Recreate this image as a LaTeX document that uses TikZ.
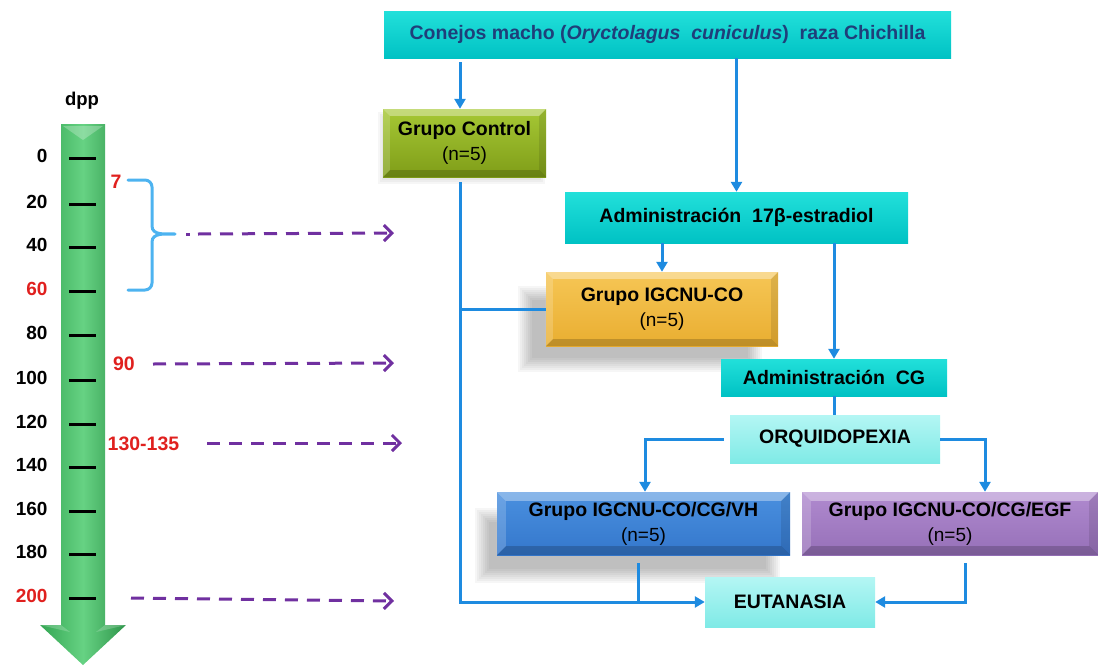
\documentclass[tikz,border=0pt]{standalone}
\usepackage{fontspec}
\setmainfont{Liberation Sans}
\usetikzlibrary{arrows.meta,calc,backgrounds}
\definecolor{cblue}{HTML}{1E8BE0}
\definecolor{dpurple}{HTML}{7030A0}
\definecolor{bracec}{HTML}{4DB3F0}
\definecolor{redl}{HTML}{E0201E}
\definecolor{navy}{HTML}{1F3F7A}
\definecolor{cyanT}{HTML}{22E0DA}
\definecolor{cyanB}{HTML}{00C2C4}
\definecolor{lcyanT}{HTML}{B4F6F4}
\definecolor{lcyanB}{HTML}{7FEAE6}
\definecolor{oliveT}{HTML}{A6C835}
\definecolor{oliveB}{HTML}{7F9D18}
\definecolor{goldT}{HTML}{F6C655}
\definecolor{goldB}{HTML}{E9AE31}
\definecolor{blueT}{HTML}{4A90DF}
\definecolor{blueB}{HTML}{3477CC}
\definecolor{purT}{HTML}{B08ACF}
\definecolor{purB}{HTML}{9670B8}
\definecolor{grL}{HTML}{34A653}
\definecolor{grM}{HTML}{66D283}
\newcommand\nfont{\fontsize{19}{22}\selectfont\mdseries}
\newcommand\bev[2][6pt]{%
  \fill[white,opacity=.35] (#2.north west) -- (#2.north east) -- ([shift={(-#1,-#1)}]#2.north east) -- ([shift={(#1,-#1)}]#2.north west) -- cycle;
  \fill[white,opacity=.18] (#2.north west) -- ([shift={(#1,-#1)}]#2.north west) -- ([shift={(#1,#1)}]#2.south west) -- (#2.south west) -- cycle;
  \fill[black,opacity=.18] (#2.south west) -- (#2.south east) -- ([shift={(-#1,#1)}]#2.south east) -- ([shift={(#1,#1)}]#2.south west) -- cycle;
  \fill[black,opacity=.10] (#2.north east) -- ([shift={(-#1,-#1)}]#2.north east) -- ([shift={(-#1,#1)}]#2.south east) -- (#2.south east) -- cycle;}
% soft shadow: node, xshift, yshift (canvas pt), max spread
\newcommand\softshadow[4]{%
  \begin{scope}[on background layer]
  \foreach \e in {-8,-6,...,#4}{
    \fill[black,opacity=.035] ([shift={(#2-\e pt,#3-\e pt)}]#1.south west) rectangle ([shift={(#2+\e pt,#3+\e pt)}]#1.north east);
  }
  \end{scope}}
\begin{document}
\begin{tikzpicture}[x=1pt,y=-1pt,
  box/.style={inner sep=0pt, align=center, font=\fontsize{19.5}{23}\selectfont\bfseries, text=black},
  cyanbox/.style={box, top color=cyanT, bottom color=cyanB},
  lcyanbox/.style={box, top color=lcyanT, bottom color=lcyanB},
  conn/.style={draw=cblue, line width=3pt, -{Triangle[length=10pt,width=11pt]}},
  link/.style={draw=cblue, line width=3pt},
  dasharr/.style={draw=dpurple, line width=3pt, dash pattern=on 13pt off 9pt, -{Straight Barb[length=8pt,width=16pt,line width=3pt]}},
  tickln/.style={line width=3pt, black},
  lab/.style={anchor=east, font=\fontsize{19}{21}\selectfont\bfseries},
  rlab/.style={font=\fontsize{19.5}{21}\selectfont\bfseries, text=redl}]
\useasboundingbox (0,0) rectangle (1098,667);
% ---------- timeline arrow ----------
\shade[left color=grL, right color=grL!90!black, middle color=grM]
  (61,124) -- (105,124) -- (105,625) -- (126,625) -- (83,665) -- (40,625) -- (61,625) -- cycle;
\fill[white,opacity=.25] (63,126) -- (103,126) -- (83,140) -- cycle;
\fill[white,opacity=.2] (40,625) -- (61,625) -- (70,632) -- cycle;
\fill[white,opacity=.2] (126,625) -- (105,625) -- (96,632) -- cycle;
\node[font=\fontsize{18.5}{20}\selectfont\bfseries] (dpp) at (82,101) {dpp};
\foreach \v/\y/\c in {0/158/black,20/204/black,40/247/black,60/291/redl,80/335/black,100/380/black,120/424/black,140/467/black,160/511/black,180/554/black,200/598/redl}{
  \draw[tickln] (69,\y) -- (96,\y);
  \node[lab, text=\c] (t\v) at (51,\y-2) {\v};
}
\node[rlab] (r7) at (116,182) {7};
\node[rlab] (r90) at (124,364) {90};
\node[rlab] (r130) at (143.5,444) {130-135};
% brace
\draw[bracec, line width=3pt, line cap=round]
  (128,180) -- (145,180) to[out=0,in=90] (152,187) -- (152,226) to[out=-90,in=180] (175,234)
  (128,290) -- (145,290) to[out=0,in=-90] (152,283) -- (152,242) to[out=90,in=180] (175,234);
\coordinate (bt) at (175,234);
% dashed arrows
\coordinate (d1a) at (198,234); \coordinate (d1b) at (394,233);
\coordinate (d2a) at (153,364); \coordinate (d2b) at (394,363);
\coordinate (d3a) at (207,443); \coordinate (d3b) at (402,443);
\coordinate (d4a) at (131,598); \coordinate (d4b) at (394,601);
\draw[draw=dpurple, line width=3pt] (186,234) -- (190,234);
\draw[dasharr] (d1a) -- (d1b);
\draw[dasharr] (d2a) -- (d2b);
\draw[dasharr] (d3a) -- (d3b);
\draw[dasharr] (d4a) -- (d4b);
% ---------- boxes ----------
\node[cyanbox, minimum width=567pt, minimum height=47pt, text=navy] (top) at (667.5,34.5)
  {Conejos macho (\textit{Oryctolagus\ \ cuniculus})\ \ raza Chichilla};
\node[box, top color=oliveT, bottom color=oliveB, minimum width=163pt, minimum height=68pt] (ctrl) at (464.5,143)
  {Grupo Control\\[2pt]{\nfont(n=5)}};
\node[cyanbox, minimum width=343pt, minimum height=51pt] (est) at (736.5,217.5)
  {Administración\ \ 17β-estradiol};
\node[box, top color=goldT, bottom color=goldB, minimum width=232pt, minimum height=74pt] (igc) at (662,309)
  {Grupo IGCNU-CO\\[2pt]{\nfont(n=5)}};
\node[cyanbox, minimum width=226pt, minimum height=37pt] (cg) at (834,377.5)
  {Administración\ \ CG};
\node[lcyanbox, minimum width=210pt, minimum height=48pt] (orq) at (835,439)
  {ORQUIDOPEXIA};
\node[box, top color=blueT, bottom color=blueB, minimum width=293pt, minimum height=63pt] (vh) at (643.5,523.5)
  {Grupo IGCNU-CO/CG/VH\\[2pt]{\nfont(n=5)}};
\node[box, top color=purT, bottom color=purB, minimum width=296pt, minimum height=63pt] (egf) at (950,523.5)
  {Grupo IGCNU-CO/CG/EGF\\[2pt]{\nfont(n=5)}};
\node[lcyanbox, minimum width=170pt, minimum height=50pt] (eut) at (790,602)
  {EUTANASIA};
\bev[7pt]{ctrl}\bev[7pt]{igc}\bev[9pt]{vh}\bev[9pt]{egf}
\softshadow{ctrl}{-3}{-5}{2}
\softshadow{igc}{-22}{-20}{6}
\softshadow{vh}{-16}{-22}{6}
% ---------- connectors ----------
\coordinate (xa) at (460,0);
\coordinate (xb) at (645,0);
\coordinate (xc) at (985,0);
\coordinate (xd) at (638,0);
\coordinate (xe) at (965,0);
\draw[conn, shorten <=4pt] (top.south -| xa) -- (ctrl.north -| xa);
\draw[conn] (top.south -| est.north) -- (est.north);
\draw[conn, shorten <=5pt] (ctrl.south -| xa) -- (xa |- eut.west) -- (eut.west);
\draw[link] (xa |- igc.west) -- (igc.west);
\draw[conn] (est.south -| igc.north) -- (igc.north);
\draw[conn] (est.south -| cg.north) -- (cg.north);
\draw[link] (cg.south) -- (cg.south |- orq.north);
\draw[conn, shorten <=6pt] (orq.west) -- (xb |- orq.west) -- (xb |- vh.north);
\draw[conn] (orq.east) -- (xc |- orq.east) -- (xc |- egf.north);
\draw[link, shorten <=8pt] (vh.south -| xd) -- (xd |- eut.west);
\draw[conn, shorten <=8pt] (egf.south -| xe) -- (xe |- eut.east) -- (eut.east);
\end{tikzpicture}
\end{document}
